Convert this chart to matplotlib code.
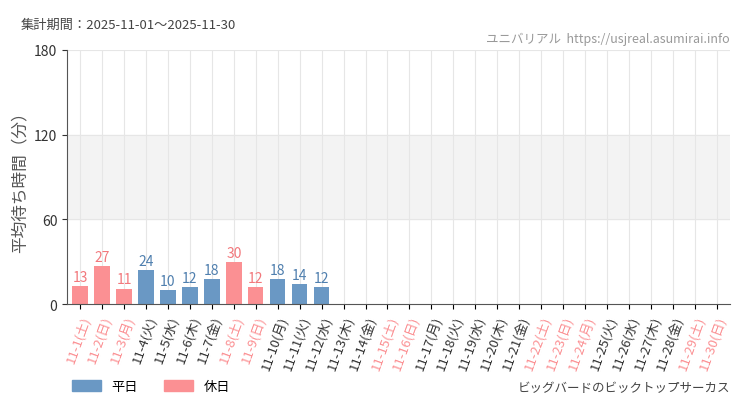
import matplotlib
matplotlib.use("Agg")
import matplotlib.pyplot as plt
from matplotlib.patches import Patch

plt.rcParams['font.family'] = ['Noto Sans CJK JP', 'DejaVu Sans']

days = [f"11-{d}" for d in range(1, 31)]
weekdays = ["土", "日", "月", "火", "水", "木", "金"]
dows = [weekdays[i % 7] for i in range(30)]
holiday = [i % 7 in (0, 1) for i in range(30)]
holiday[2] = True   # 11-3 文化の日
holiday[23] = True  # 11-24 振替休日
waits = [13, 27, 11, 24, 10, 12, 18, 30, 12, 18, 14, 12] + [None] * 18

BLUE = "#6a98c4"
PINK = "#fb9093"
BLUE_T = "#4f7fae"
PINK_T = "#f2787c"

fig = plt.figure(figsize=(7.5, 4.1), dpi=100)
ax = fig.add_axes([0.0893, 0.256, 0.884, 0.62])

ax.axhspan(60, 120, color="#f3f3f3", zorder=0)
for i, (v, h) in enumerate(zip(waits, holiday)):
    ax.axvline(i, color="#e6e6e6", lw=0.8, zorder=0)
    if v is None:
        continue
    ax.bar(i, v, width=0.7, color=PINK if h else BLUE, zorder=2)
    ax.text(i, v + 1.5, str(v), ha="center", va="bottom", fontsize=10,
            color=PINK_T if h else BLUE_T, zorder=3)
for y in (60, 120, 180):
    ax.axhline(y, color="#e6e6e6", lw=0.8, zorder=0)

ax.set_xlim(-0.6, 29.6)
ax.set_ylim(0, 180)
ax.set_yticks([0, 60, 120, 180])
ax.tick_params(axis="y", labelsize=10, colors="#333333")
ax.set_xticks(range(30))
ax.set_xticklabels([f"{d}({w})" for d, w in zip(days, dows)], rotation=70,
                   ha="right", rotation_mode="anchor", fontsize=9.5)
for lab, h in zip(ax.get_xticklabels(), holiday):
    lab.set_color(PINK if h else "#333333")
ax.set_ylabel("平均待ち時間（分）", fontsize=12, color="#555555")
for s in ("top", "right"):
    ax.spines[s].set_visible(False)
ax.spines["left"].set_color("#555555")
ax.spines["bottom"].set_color("#555555")

fig.text(0.027, 0.93, "集計期間：2025-11-01～2025-11-30", fontsize=9.5, color="#444444")
fig.text(0.973, 0.895, "ユニバリアル  https://usjreal.asumirai.info", fontsize=9,
         color="#999999", ha="right")
fig.text(0.973, 0.045, "ビッグバードのビックトップサーカス", fontsize=9,
         color="#444444", ha="right")
fig.legend(handles=[Patch(color=BLUE, label="平日"), Patch(color=PINK, label="休日")],
           loc="lower left", bbox_to_anchor=(0.08, 0.01), ncol=2, frameon=False,
           fontsize=9.5, handlelength=2.2, handleheight=0.9)

fig.savefig("out.png", dpi=100, facecolor="white")
